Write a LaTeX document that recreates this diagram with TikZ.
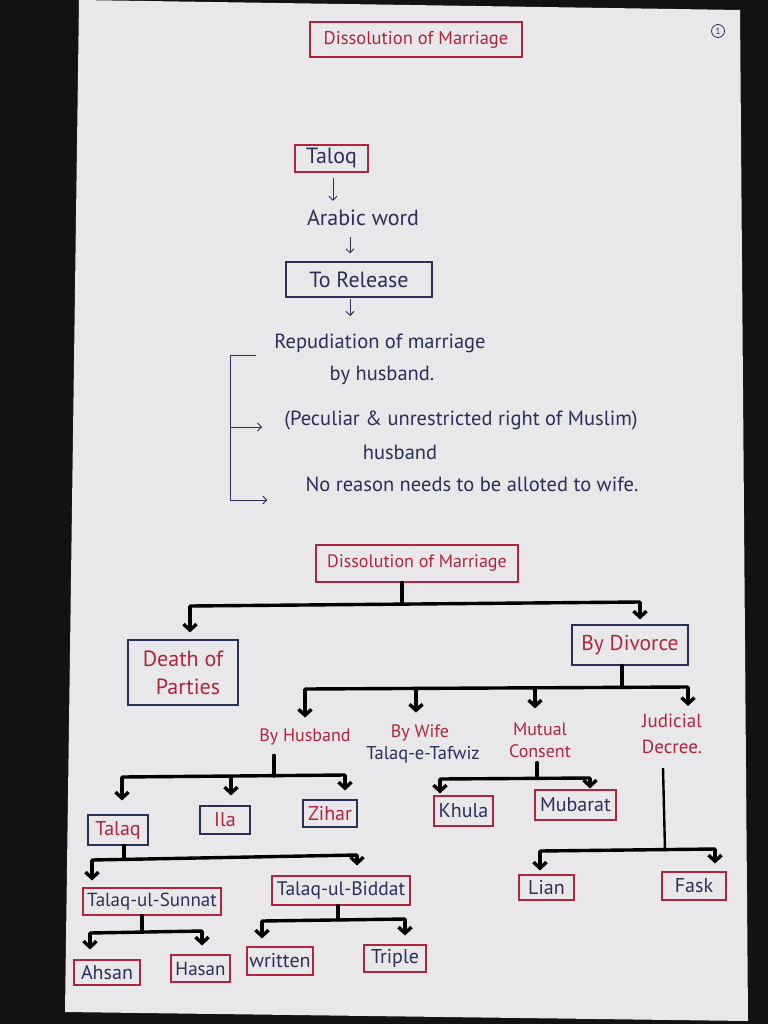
\documentclass[tikz,border=0pt]{standalone}
\usepackage{fontspec}
\setmainfont{PT Sans}
\usetikzlibrary{arrows.meta}
\definecolor{ink}{HTML}{2B2E58}
\definecolor{redink}{HTML}{B0243F}
\definecolor{paper}{HTML}{E8E8EA}
\definecolor{bgdark}{HTML}{121212}
\begin{document}
\begin{tikzpicture}[x=1pt,y=-1pt,
  box/.style={line width=1.1pt, inner sep=0pt, font=\fontsize{20}{22}\selectfont},
  rbox/.style={box, draw=redink},
  bbox/.style={box, draw=ink},
  rt/.style={text=redink},
  bt/.style={text=ink},
  hand/.style={inner sep=0pt, text=ink, font=\fontsize{20.5}{23}\selectfont},
  rlabel/.style={inner sep=0pt, text=redink, align=center, font=\fontsize{18}{22}\selectfont},
  tree/.style={line width=3.4pt, black, line cap=round},
  tarrow/.style={line width=3.4pt, black, -{Straight Barb[length=6pt,width=13pt]}},
  thinline/.style={line width=0.9pt, ink},
  thinarrow/.style={line width=0.9pt, ink, -{Straight Barb[length=4pt,width=8pt]}}
]
\useasboundingbox (0,0) rectangle (768,1024);
\fill[bgdark] (0,0) rectangle (768,1024);
\fill[paper] (79,0) -- (740,10) -- (748,1021) -- (65,1012) -- cycle;

% ---------- top part ----------
\node[rbox, rt, minimum width=212pt, minimum height=35pt, font=\fontsize{18.5}{20}\selectfont] (title) at (416,39.5) {Dissolution of Marriage};
\node[draw=ink, circle, line width=0.8pt, inner sep=0pt, minimum size=13pt, text=ink, font=\fontsize{9}{10}\selectfont] (pg) at (718,31) {1};

\node[rbox, bt, minimum width=73pt, minimum height=27pt, font=\fontsize{22}{24}\selectfont] (taloq) at (331.5,158.5) {Taloq};
\node[hand, font=\fontsize{22}{24}\selectfont] (arabic) at (363,218) {Arabic word};
\node[bbox, bt, minimum width=146pt, minimum height=35pt, font=\fontsize{22}{24}\selectfont] (release) at (359,279.5) {To Release};

\coordinate (ta1) at (333,178);
\coordinate (ta2) at (350,237);
\coordinate (ta3) at (350,299);
\coordinate (relbelow) at (350,316);
\draw[thinarrow] (ta1) -- (ta1 |- arabic.north) [shorten >=9pt];
\draw[thinarrow] (ta2) -- (ta2 |- release.north) [shorten >=8pt];
\draw[thinarrow] (ta3) -- (relbelow);

\node[hand] (rep1) at (380,343) {Repudiation of marriage};
\node[hand] (rep2) at (382,375) {by husband.};
\node[hand] (pec1) at (461,420) {(Peculiar \& unrestricted right of Muslim)};
\node[hand] (pec2) at (400,452) {husband};
\node[hand] (nor) at (472,484) {No reason needs to be alloted to wife.};

\coordinate (bA) at (256,355);
\coordinate (bB) at (230,355);
\coordinate (bC) at (230,427);
\coordinate (bD) at (230,500);
\draw[thinline] (bA) -- (bB) -- (bD);
\draw[thinarrow] (bC) -- ([xshift=-22pt]pec1.west |- bC);
\draw[thinarrow] (bD) -- ([xshift=-38pt]nor.west |- bD);

% ---------- tree ----------
\node[rbox, rt, minimum width=202pt, minimum height=37pt, font=\fontsize{18}{20}\selectfont] (dm2) at (417,563.5) {Dissolution of Marriage};
\node[bbox, rt, minimum width=110pt, minimum height=65pt, align=center, font=\fontsize{22}{28}\selectfont] (death) at (183,672.5) {Death of\\\hspace*{10pt}Parties};
\node[bbox, rt, minimum width=116pt, minimum height=40pt, font=\fontsize{21.5}{24}\selectfont] (divorce) at (630,645) {By Divorce};

\coordinate (b1L) at (190,606);
\coordinate (b1R) at (640,602);
\draw[tree] (dm2.south -| 402,0) -- (402,604);
\draw[tree] (b1L) -- (b1R);
\draw[tarrow] (b1L) -- (b1L |- death.north) [shorten >=7pt];
\draw[tarrow] (b1R) -- (b1R |- divorce.north) [shorten >=5pt];

\node[rlabel] (hus) at (305,737) {By Husband};
\node[rlabel] (wife) at (420,733) {By Wife};
\node[inner sep=0pt, text=ink, font=\fontsize{18.5}{20}\selectfont] (tafwiz) at (423,755) {Talaq-e-Tafwiz};
\node[rlabel] (mutual) at (540,740) {Mutual\\Consent};
\node[rlabel, font=\fontsize{19}{26}\selectfont] (judicial) at (672,734) {Judicial\\Decree.};

\coordinate (b2a) at (305,689);
\coordinate (b2b) at (416,688.5);
\coordinate (b2c) at (535,688);
\coordinate (b2d) at (688,687);
\draw[tree] (divorce.south -| 622,0) -- (622,687);
\draw[tree] (b2a) -- (b2d);
\draw[tarrow] (b2a) -- (b2a |- hus.north) [shorten >=11pt];
\draw[tarrow] (b2b) -- (b2b |- wife.north) [shorten >=12pt];
\draw[tarrow] (b2c) -- (b2c |- mutual.north) [shorten >=14pt];
\draw[tarrow] (b2d) -- (b2d |- judicial.north) [shorten >=8pt];

% By husband
\node[bbox, rt, minimum width=60pt, minimum height=30pt] (talaq) at (118,830) {Talaq};
\node[bbox, rt, minimum width=50pt, minimum height=28pt] (ila) at (225,820) {Ila};
\node[bbox, rt, minimum width=54pt, minimum height=27pt] (zihar) at (330,813.5) {Zihar};
\coordinate (b3a) at (122,777);
\coordinate (b3b) at (231,776);
\coordinate (b3c) at (345,775);
\draw[tree] (hus.south -| 274,0) ++(0,10) -- (274,776);
\draw[tree] (b3a) -- (b3c);
\draw[tarrow] (b3a) -- (b3a |- talaq.north) [shorten >=14pt];
\draw[tarrow] (b3b) -- (b3b |- ila.north) [shorten >=10pt];
\draw[tarrow] (b3c) -- (b3c |- zihar.north) [shorten >=9pt];

% Mutual consent
\node[rbox, bt, minimum width=59pt, minimum height=30pt] (khula) at (463.5,811) {Khula};
\node[rbox, bt, minimum width=81pt, minimum height=30pt] (mubarat) at (575.5,805) {Mubarat};
\coordinate (b4a) at (440,779);
\coordinate (b4b) at (590,778);
\draw[tree] (mutual.south -| 537,0) ++(0,5) -- (537,778);
\draw[tree] (b4a) -- (b4b);
\draw[tarrow] (b4a) -- (b4a |- khula.north) [shorten >=2pt];
\draw[tarrow] (b4b) -- (b4b |- mubarat.north) [shorten >=1pt];

% Judicial decree
\node[rbox, bt, minimum width=55pt, minimum height=25pt] (lian) at (546.5,887.5) {Lian};
\node[rbox, bt, minimum width=64pt, minimum height=28pt] (fask) at (694,886) {Fask};
\coordinate (b5a) at (540,851);
\coordinate (b5b) at (715,849);
\draw[line width=2.4pt, black] (judicial.south -| 663,0) ++(0,14) -- (665,850);
\draw[tree] (b5a) -- (b5b);
\draw[tarrow] (b5a) -- (b5a |- lian.north) [shorten >=4pt];
\draw[tarrow] (b5b) -- (b5b |- fask.north) [shorten >=8pt];

% Talaq
\node[rbox, bt, minimum width=138pt, minimum height=27pt, font=\fontsize{19}{21}\selectfont] (sunnat) at (152,901.5) {Talaq-ul-Sunnat};
\node[rbox, bt, minimum width=138pt, minimum height=29pt, font=\fontsize{19.5}{21}\selectfont] (biddat) at (341,890.5) {Talaq-ul-Biddat};
\coordinate (b6a) at (92,860);
\coordinate (b6b) at (357,855);
\draw[tree] (talaq.south -| 124,0) -- (124,858);
\draw[tree] (b6a) -- (b6b);
\draw[tarrow] (b6a) -- (b6a |- sunnat.north) [shorten >=7pt];
\draw[tarrow] (b6b) -- (b6b |- biddat.north) [shorten >=10pt];

% Sunnat
\node[rbox, bt, minimum width=66pt, minimum height=25pt] (ahsan) at (107,972.5) {Ahsan};
\node[rbox, bt, minimum width=59pt, minimum height=27pt, font=\fontsize{19}{21}\selectfont] (hasan) at (200.5,968.5) {Hasan};
\coordinate (b7a) at (90,933);
\coordinate (b7b) at (202,931);
\draw[tree] (sunnat.south -| 142,0) -- (142,932);
\draw[tree] (b7a) -- (b7b);
\draw[tarrow] (b7a) -- (b7a |- ahsan.north) [shorten >=10pt];
\draw[tarrow] (b7b) -- (b7b |- hasan.north) [shorten >=9pt];

% Biddat
\node[rbox, bt, minimum width=66pt, minimum height=28pt] (written) at (280,961) {written};
\node[rbox, bt, minimum width=62pt, minimum height=27pt] (triple) at (395,958.5) {Triple};
\coordinate (b8a) at (262,921);
\coordinate (b8b) at (405,919);
\draw[tree] (biddat.south -| 338,0) -- (338,920);
\draw[tree] (b8a) -- (b8b);
\draw[tarrow] (b8a) -- (b8a |- written.north) [shorten >=8pt];
\draw[tarrow] (b8b) -- (b8b |- triple.north) [shorten >=9pt];
\end{tikzpicture}
\end{document}
